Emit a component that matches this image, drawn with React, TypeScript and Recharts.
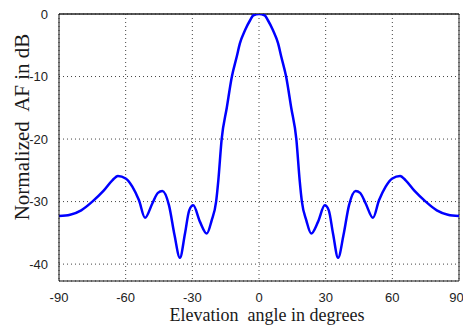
import { LineChart, Line, XAxis, YAxis, CartesianGrid, ReferenceLine, Label } from 'recharts';

// elevation angle (deg) and normalized array factor (dB)
const angles = [
  -90, -85, -80, -75, -70, -66, -63.5, -60, -57, -54, -51.3, -48, -45.5, -43.5, -40.5, -38, -35.6, -33.3,
  -31.4, -29.6, -26.6, -23.5, -21.3, -19.3, -18.3, -16.8, -14.5, -12.2, -10, -8.6, -6.3, -4, -2.5, 0,
  2.5, 4, 6.3, 8.6, 10, 12.2, 14.5, 16.8, 18.3, 19.3, 21.3, 23.5, 26.6, 29.6, 31.4, 33.3, 35.6, 38, 40.5,
  43.5, 45.5, 48, 51.3, 54, 57, 60, 63.5, 66, 70, 75, 80, 85, 90,
];
const afDb = [
  -32.3, -32.1, -31.4, -30.0, -28.3, -26.6, -25.9, -26.3, -27.6, -29.8, -32.6, -30.3, -28.6, -28.3, -30.6,
  -35.4, -39.0, -35.1, -31.4, -30.6, -33.2, -35.1, -33.0, -30.0, -26.6, -20.0, -15.0, -10.0, -6.8, -4.7,
  -2.6, -1.0, -0.2, 0, -0.2, -1.0, -2.6, -4.7, -6.8, -10.0, -15.0, -20.0, -26.6, -30.0, -33.0, -35.1,
  -33.2, -30.6, -31.4, -35.1, -39.0, -35.4, -30.6, -28.3, -28.6, -30.3, -32.6, -29.8, -27.6, -26.3, -25.9,
  -26.6, -28.3, -30.0, -31.4, -32.1, -32.3,
];
const xTicks = [-90, -60, -30, 0, 30, 60, 90];
const yTicks = [-40, -30, -20, -10, 0];

const data = angles.map((a, i) => ({ angle: a, af: afDb[i] }));

const tickFont = { fontFamily: '"Liberation Sans Narrow", "Liberation Sans", Arial, sans-serif', fontSize: 13, fill: '#222' };
const titleFont = { fontFamily: '"Liberation Serif", "Times New Roman", serif', fill: '#1a1a1a' };

export default function App() {
  return (
    <div style={{ position: 'absolute', left: 0, top: 0 }}>
      <LineChart width={463} height={327} data={data} margin={{ top: 14, right: 4, left: 14, bottom: 16 }}>
        <CartesianGrid stroke="#444" strokeDasharray="1 3" />
        <XAxis
          dataKey="angle"
          type="number"
          domain={[-90, 90]}
          ticks={xTicks}
          tickLine={false}
          tickMargin={6}
          height={30}
          axisLine={{ stroke: '#111' }}
          tick={tickFont}
        >
          <Label
            content={() => (
              <text x={267} y={321} textAnchor="middle" fontSize={18} style={{ whiteSpace: 'pre' }} {...titleFont}>
                {'Elevation  angle in degrees'}
              </text>
            )}
          />
        </XAxis>
        <YAxis
          type="number"
          domain={[-42.7, 0]}
          ticks={yTicks}
          tickLine={false}
          tickMargin={5}
          width={45}
          axisLine={{ stroke: '#111' }}
          tick={tickFont}
          allowDataOverflow
        >
          <Label
            content={() => (
              <text
                x={29}
                y={127}
                transform="rotate(-90 29 127)"
                textAnchor="middle"
                fontSize={21}
                style={{ whiteSpace: 'pre' }}
                {...titleFont}
              >
                {'Normalized  AF in dB'}
              </text>
            )}
          />
        </YAxis>
        <ReferenceLine y={0} stroke="#222" strokeWidth={1.5} />
        <ReferenceLine x={90} stroke="#222" strokeWidth={1} />
        <Line
          type="monotone"
          dataKey="af"
          stroke="#0000ff"
          strokeWidth={2.5}
          dot={false}
          isAnimationActive={false}
        />
      </LineChart>
    </div>
  );
}
